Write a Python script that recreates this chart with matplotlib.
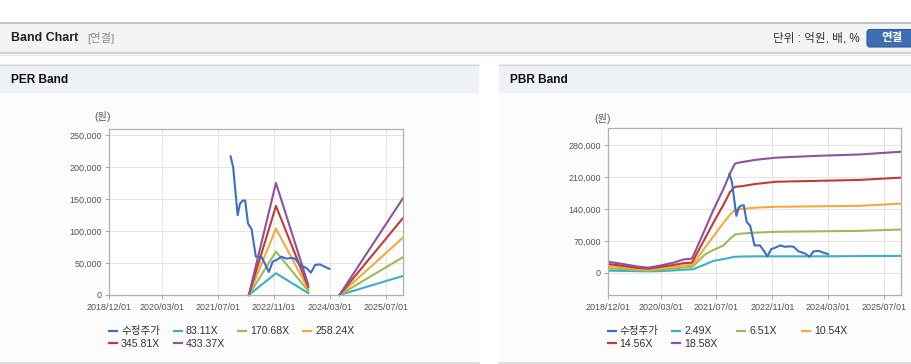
import matplotlib
matplotlib.use('Agg')
import matplotlib.pyplot as plt
import matplotlib.dates as mdates
from matplotlib.patches import Rectangle, FancyBboxPatch
from matplotlib.ticker import FuncFormatter
import numpy as np
import pandas as pd

plt.rcParams['font.family'] = ['Liberation Sans', 'Noto Sans CJK KR']

# ---------------- data ----------------
price_label = '수정주가'
price_dates = ['2021-10-21', '2021-11-12', '2021-12-21', '2022-01-10', '2022-02-03',
               '2022-02-24', '2022-03-21', '2022-04-21', '2022-05-28', '2022-07-15',
               '2022-08-15', '2022-09-18', '2022-10-21', '2022-11-25', '2023-01-07',
               '2023-02-15', '2023-04-04', '2023-05-04', '2023-06-16', '2023-08-13',
               '2023-09-19', '2023-10-25', '2023-12-07', '2024-01-19', '2024-02-28']
price_values = [217000, 200000, 125000, 143000, 148000,
                148000, 112000, 103000, 60000, 60000,
                49000, 36000, 52000, 55000, 60000,
                57000, 58000, 57000, 47000, 42000,
                35000, 47000, 48000, 44000, 41000]

per_labels = ['83.11X', '170.68X', '258.24X', '345.81X', '433.37X']
per_dates = ['2022-03-28', '2022-11-19', '2023-08-27', '2024-01-01', '2024-05-24', '2025-11-25']
per_83 = [0, 34000, 3000, np.nan, 0, 29700]
per_170 = [0, 68000, 6500, np.nan, 0, 59000]
per_258 = [0, 104000, 9500, np.nan, 0, 89500]
per_345 = [0, 139500, 12500, np.nan, 0, 120000]
per_433 = [0, 175500, 16000, np.nan, 0, 151000]

pbr_labels = ['2.49X', '6.51X', '10.54X', '14.56X', '18.58X']
pbr_dates = ['2018-12-01', '2019-04-01', '2019-08-01', '2019-11-15', '2020-03-01',
             '2020-06-20', '2020-09-15', '2020-11-28', '2020-12-12', '2021-03-22',
             '2021-06-04', '2021-09-01', '2021-10-28', '2021-12-10', '2022-02-01',
             '2022-06-01', '2022-12-01', '2023-12-01', '2024-12-01', '2025-11-25']
pbr_249 = [4500, 4000, 3500, 3000, 3500, 5000, 6500, 7500, 8000, 18000,
           26000, 30000, 33000, 35000, 35500, 36000, 36000, 36000, 36500, 37000]
pbr_651 = [9500, 8000, 6000, 4500, 6500, 9000, 11500, 13000, 15000, 40000,
           50000, 60000, 75000, 84000, 86000, 88000, 90000, 91000, 92000, 95000]
pbr_1054 = [14500, 12000, 8500, 7000, 10000, 13000, 16000, 17000, 20000, 55000,
            80000, 110000, 128000, 138000, 140000, 143000, 145000, 146000, 147000, 152000]
pbr_1456 = [19000, 15500, 11000, 9000, 13000, 17000, 21000, 22000, 28000, 75000,
            110000, 150000, 178000, 189000, 190000, 195000, 200000, 202000, 204000, 209000]
pbr_1858 = [24000, 19500, 14000, 11000, 16000, 22000, 29000, 31000, 38000, 95000,
            138000, 185000, 219000, 240000, 243000, 248000, 253000, 257000, 260000, 266000]

x_tick_dates = ['2018-12-01', '2020-03-01', '2021-07-01', '2022-11-01', '2024-03-01', '2025-07-01']
x_tick_labels = ['2018/12/01', '2020/03/01', '2021/07/01', '2022/11/01', '2024/03/01', '2025/07/01']
x_start, x_end = '2018-12-01', '2025-11-25'
per_yticks = [0, 50000, 100000, 150000, 200000, 250000]
pbr_yticks = [0, 70000, 140000, 210000, 280000]

price_color = '#3b6fc7'
band_colors = ['#3cb0c5', '#9bbb59', '#f5aa3c', '#c33b30', '#8e52a0']

# ---------------- figure ----------------
W, H = 912, 364
fig = plt.figure(figsize=(W / 100, H / 100), dpi=100)
fig.patch.set_facecolor('white')

bg = fig.add_axes([0, 0, 1, 1], zorder=-10)
bg.set_xlim(0, W)
bg.set_ylim(H, 0)
bg.axis('off')

# header bar
bg.add_patch(Rectangle((0, 22), W, 31, facecolor='#f4f4f4', edgecolor='none'))
bg.plot([0, W], [22.5, 22.5], color='#b8b8b8', lw=1.2)
bg.plot([0, W], [53, 53], color='#cfcfcf', lw=1.5)
bg.plot([0, W], [54.5, 54.5], color='#e6e6e6', lw=1.0)
bg.text(11, 38, 'Band Chart', fontsize=8.9, fontweight='bold', color='#222222',
        va='center', ha='left')
bg.text(87, 38.5, '[연결]', fontsize=8.2, color='#8a8a8a', va='center', ha='left')
bg.text(860, 38.5, '단위 : 억원, 배, %', fontsize=8.4, color='#333333', va='center', ha='right')
bg.add_patch(FancyBboxPatch((867, 29.5), 50, 17.5, boxstyle='round,pad=0,rounding_size=3',
                            facecolor='#3e6fb3', edgecolor='#2f5c9c', lw=0.8))
bg.text(892, 38.5, '연결', fontsize=8.3, fontweight='bold', color='white', va='center', ha='center')

# panels
for (x0, x1, title) in [(0, 479, 'PER Band'), (499, W, 'PBR Band')]:
    bg.add_patch(Rectangle((x0, 93), x1 - x0, 270, facecolor='#fcfcfc', edgecolor='none'))
    bg.add_patch(Rectangle((x0, 64), x1 - x0, 29, facecolor='#eef2f6', edgecolor='none'))
    bg.plot([x0, x1], [64.5, 64.5], color='#d3d6da', lw=1.0)
    bg.plot([x0, x1], [363, 363], color='#dadada', lw=1.2)
    bg.text(x0 + 11, 80, title, fontsize=8.6, fontweight='bold', color='#111111',
            va='center', ha='left')


def fmt_thousands(v, pos):
    return f'{int(round(v)):,}'


def setup_axes(ax, yticks, ylim):
    xd = pd.to_datetime(x_tick_dates)
    ax.set_xlim(pd.Timestamp(x_start), pd.Timestamp(x_end))
    ax.set_xticks(xd)
    ax.set_xticklabels(x_tick_labels)
    ax.set_ylim(*ylim)
    ax.set_yticks(yticks)
    ax.yaxis.set_major_formatter(FuncFormatter(fmt_thousands))
    ax.grid(True, color='#e6e6e6', lw=0.8)
    ax.set_axisbelow(True)
    for s in ax.spines.values():
        s.set_color('#b0b0b0')
        s.set_linewidth(0.9)
    ax.tick_params(axis='both', colors='#b0b0b0', labelcolor='#555555', labelsize=6.5,
                   length=3, width=0.8)
    ax.tick_params(axis='x', pad=2.5)
    ax.tick_params(axis='y', pad=2.5)
    ax.set_facecolor('white')


def draw_legend(x0, labels, colors):
    colx = [x0 + i * 64.7 for i in range(4)]
    rows = [330.7, 343.3]
    for i, (lab, c) in enumerate(zip(labels, colors)):
        cx = colx[i % 4]
        cy = rows[i // 4]
        bg.plot([cx, cx + 10], [cy, cy], color=c, lw=1.6, solid_capstyle='butt')
        bg.text(cx + 13, cy + 0.5, lab, fontsize=7.6, color='#333333', va='center', ha='left')


# PER axes
ax1 = fig.add_axes([109.3 / W, 1 - 295 / H, 293.4 / W, 166 / H])
setup_axes(ax1, per_yticks, (0, 260000))
per_series = [per_83, per_170, per_258, per_345, per_433]
pd_per = pd.to_datetime(per_dates)
for vals, c in zip(per_series, band_colors):
    ax1.plot(pd_per, vals, color=c, lw=1.5, clip_on=False, solid_joinstyle='round')
ax1.plot(pd.to_datetime(price_dates), price_values, color=price_color, lw=1.5, zorder=5)
bg.text(103, 117, '(원)', fontsize=7.4, color='#555555', va='center', ha='center')
draw_legend(108, [price_label] + per_labels, [price_color] + band_colors)

# PBR axes
ax2 = fig.add_axes([608.3 / W, 1 - 295 / H, 292.7 / W, 166.7 / H])
setup_axes(ax2, pbr_yticks, (-49000, 317500))
pbr_series = [pbr_249, pbr_651, pbr_1054, pbr_1456, pbr_1858]
pd_pbr = pd.to_datetime(pbr_dates)
for vals, c in zip(pbr_series, band_colors):
    ax2.plot(pd_pbr, vals, color=c, lw=1.5, solid_joinstyle='round')
ax2.plot(pd.to_datetime(price_dates), price_values, color=price_color, lw=1.5, zorder=5)
bg.text(603, 118, '(원)', fontsize=7.4, color='#555555', va='center', ha='center')
draw_legend(606.7, [price_label] + pbr_labels, [price_color] + band_colors)

fig.savefig('out.png', dpi=100)
